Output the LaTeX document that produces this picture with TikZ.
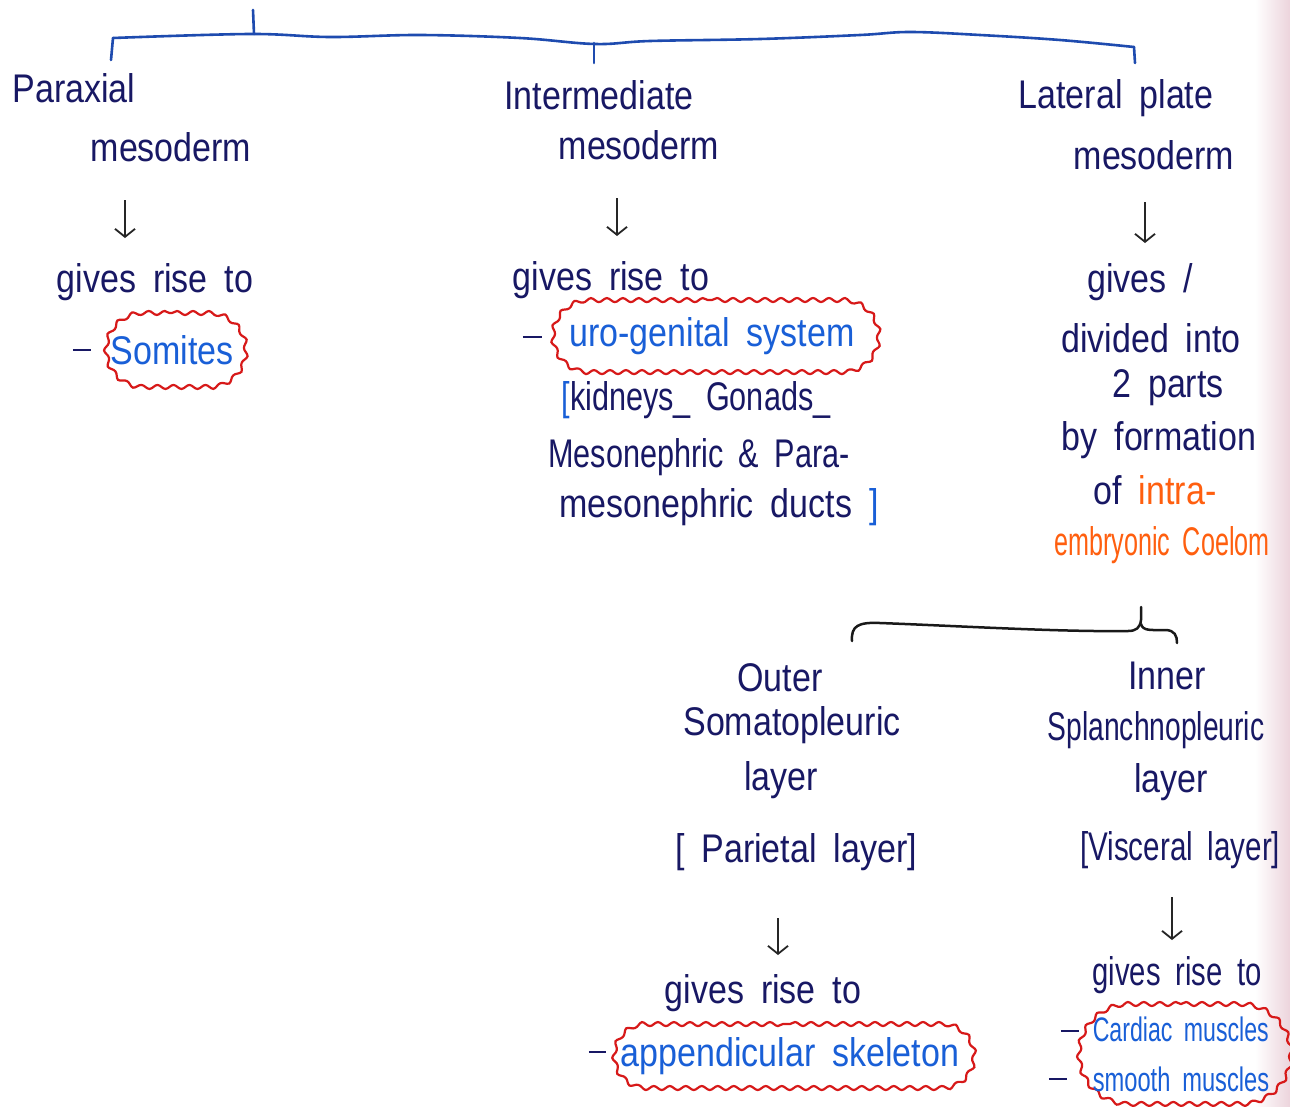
\documentclass[tikz,border=0pt]{standalone}
\usepackage{fontspec}
\usetikzlibrary{arrows.meta,decorations.pathmorphing,calc,shapes.misc}
\newfontfamily\hand{Liberation Sans}[FakeStretch=0.85,WordSpace=1.8]
\definecolor{ink}{RGB}{24,24,100}
\definecolor{hl}{RGB}{25,95,215}
\definecolor{redc}{RGB}{215,25,25}
\definecolor{orng}{RGB}{255,95,15}
\definecolor{brkblue}{RGB}{30,75,175}
\definecolor{pinkedge}{RGB}{236,212,220}
\newcommand\narrow[2]{\scalebox{#1}[1]{#2}}
\begin{document}
\begin{tikzpicture}[x=1pt,y=-1pt,
  txt/.style={font=\hand\fontsize{#1}{#1}\selectfont, text=ink, inner sep=0pt},
  txt/.default=40,
  cloudbox/.style={rounded rectangle, draw=redc, line width=2.2pt, text=hl, inner sep=0pt,
     decorate, decoration={snake, amplitude=2pt, segment length=16pt}},
  harrow/.style={draw=black!85, line width=1.8pt, -{Straight Barb[length=8pt,width=20pt]}},
  brk/.style={draw=brkblue, line width=2.6pt, line cap=round, line join=round},
  brkk/.style={draw=black!90, line width=2.5pt, line cap=round, line join=round},
  dashline/.style={draw=ink, line width=2.6pt}]
\useasboundingbox (0,0) rectangle (1290,1106);
\fill[white] (0,0) rectangle (1290,1106);
\shade[left color=white, right color=pinkedge] (1255,0) rectangle (1290,1106);

% ---------- top bracket ----------
\draw[brk] (253,10) -- (254,34);
\draw[brk] plot[smooth, tension=0.6] coordinates {(113,38) (250,34) (330,37) (420,35) (520,38) (595,44) (650,41) (760,39) (860,35) (910,32) (980,35) (1060,40) (1134,47)};
\draw[brk] (113,38) -- (111,60);
\draw[brk] (594,43) -- (594,63);
\draw[brk] (1134,47) -- (1135,63);

% ---------- paraxial ----------
\node[txt] (pm1) at (74,88) {Paraxial};
\node[txt] (pm2) at (171,147) {mesoderm};
\node[txt] (pg) at (155,282) {gives rise to};
\node[cloudbox, minimum width=140pt, minimum height=74pt, font=\hand\fontsize{40}{40}\selectfont] (ps) at (172,350) {Somites};
\draw[dashline] ($(ps.west)+(-28,0)$) -- ($(ps.west)+(-10,0)$);
\coordinate (a1s) at (125,200); \coordinate (a1e) at (125,238);
\draw[harrow] (a1s) -- (a1e);

% ---------- intermediate ----------
\node[txt] (im1) at (599,95) {Intermediate};
\node[txt] (im2) at (639,145) {mesoderm};
\node[txt] (ig) at (611,280) {gives rise to};
\node[cloudbox, minimum width=326pt, minimum height=72pt, font=\hand\fontsize{40}{40}\selectfont] (iu) at (712,336) {uro-genital system};
\draw[dashline] ($(iu.west)+(-25,1)$) -- ($(iu.west)+(-6,1)$);
\node[txt] (ik) at (696,400) {\narrow{0.9}{{\color{hl}[}kidneys\_ Gonads\_}};
\node[txt] (imp) at (699,457) {\narrow{0.9}{Mesonephric \& Para-}};
\node[txt] (idu) at (719,507) {mesonephric ducts {\color{hl}]}};
\coordinate (a2s) at (617,198); \coordinate (a2e) at (617,236);
\draw[harrow] (a2s) -- (a2e);

% ---------- lateral plate ----------
\node[txt] (lm1) at (1116,98) {Lateral plate};
\node[txt] (lm2) at (1154,155) {mesoderm};
\node[txt] (lg1) at (1140,282) {gives /};
\node[txt] (lg2) at (1151,338) {divided into};
\node[txt] (lg3) at (1168,388) {2 parts};
\node[txt] (lg4) at (1159,440) {by formation};
\node[txt] (lg5) at (1155,490) {of {\color{orng}intra-}};
\node[txt, text=orng] (lg6) at (1162,545) {\narrow{0.74}{embryonic Coelom}};
\coordinate (a3s) at (1145,202); \coordinate (a3e) at (1145,243);
\draw[harrow] (a3s) -- (a3e);

% ---------- lower bracket ----------
\draw[brkk] (852,641) .. controls (851,626) and (858,622) .. (880,623)
   .. controls (960,626) and (1060,632) .. (1128,631)
   .. controls (1136,631) and (1140,628) .. (1141,620) -- (1141,607);
\draw[brkk] (1141,624) .. controls (1143,631) and (1150,630) .. (1165,630)
   .. controls (1175,630) and (1177,636) .. (1177,643);

% ---------- outer layer ----------
\node[txt] (ou1) at (780,678) {Outer};
\node[txt] (ou2) at (792,725) {Somatopleuric};
\node[txt] (ou3) at (781,780) {layer};
\node[txt] (ou4) at (796,852) {[ Parietal layer]};
\coordinate (a4s) at (778,918); \coordinate (a4e) at (778,955);
\draw[harrow] (a4s) -- (a4e);
\node[txt] (og) at (763,993) {gives rise to};
\node[cloudbox, minimum width=360pt, minimum height=64pt, font=\hand\fontsize{40}{40}\selectfont] (oa) at (790,1056) {appendicular skeleton};
\draw[dashline] ($(oa.west)+(-20,-4)$) -- ($(oa.west)+(-3,-4)$);

% ---------- inner layer ----------
\node[txt] (in1) at (1167,676) {Inner};
\node[txt] (in2) at (1156,730) {\narrow{0.83}{Splanchnopleuric}};
\node[txt] (in3) at (1171,782) {layer};
\node[txt, anchor=west] (in4) at (1080,850) {\narrow{0.87}{[Visceral layer]}};
\coordinate (a5s) at (1172,897); \coordinate (a5e) at (1172,940);
\draw[harrow] (a5s) -- (a5e);
\node[txt] (ig2) at (1177,975) {\narrow{0.86}{gives rise to}};
\node[cloudbox, minimum width=212pt, minimum height=100pt, align=left, font=\hand\fontsize{34}{50}\selectfont] (mus) at (1181,1054) {\narrow{0.8}{Cardiac muscles}\\\narrow{0.82}{smooth muscles}};
\draw[dashline] ($(mus.west)+(-13,-23)$) -- ($(mus.west)+(5,-23)$);
\draw[dashline] ($(mus.west)+(-25,25)$) -- ($(mus.west)+(-7,25)$);
\end{tikzpicture}
\end{document}
